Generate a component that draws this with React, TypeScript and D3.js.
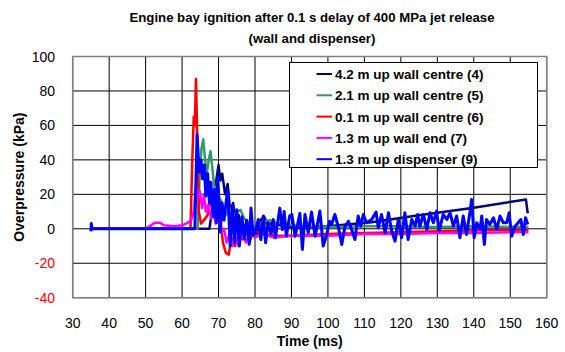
import React, { useEffect, useRef } from 'react';
import * as d3 from 'd3';

const titleLines = ['Engine bay ignition after 0.1 s delay of 400 MPa jet release', '(wall and dispenser)'];
const xTicks = [30, 40, 50, 60, 70, 80, 90, 100, 110, 120, 130, 140, 150, 160];
const yTicks = [-40, -20, 0, 20, 40, 60, 80, 100];

const seriesNames = [
  '4.2 m up wall centre (4)',
  '2.1 m up wall centre (5)',
  '0.1 m up wall centre (6)',
  '1.3 m up wall end (7)',
  '1.3 m up dispenser (9)',
];
const seriesColors = ['#000080', '#339966', '#ff0000', '#ff00ff', '#0000ff'];

// [time ms, overpressure kPa]
const wallCentre42 = [
  [35, 0], [60, 0], [67.5, 0], [68.5, 15], [69.5, 30], [70, 37], [70.5, 28], [71, 32], [71.8, 20],
  [72.5, 26], [73.2, 10], [74, 15], [74.8, 2], [75.5, 8], [76.5, -5], [77.5, 3], [78.5, -8],
  [79.5, 0], [80.5, -3], [81.5, 5], [82.5, 7], [83.5, 2], [85, 4], [87, 2], [90, 1], [95, 1],
  [100, 1.5], [112, 3.8], [124, 7.6], [140, 12.2], [154.3, 17], [154.8, 9],
];
const wallCentre21 = [
  [35, 0], [64.3, 0], [64.8, 30], [65.3, 46], [65.8, 52], [66.3, 40], [66.8, 32], [67.3, 40],
  [67.8, 45], [68.3, 35], [68.8, 25], [69.5, 22], [70.2, 18], [71, 15], [72, 8], [73, 12],
  [74, 6], [75, 10], [76, 11], [77, 6], [78, 4], [79, 2], [80, 1], [82, 4], [84, 5], [86, 3],
  [88, 4], [90, 2], [95, 1.5], [100, 1], [110, 1.5], [120, 1.5], [130, 1], [140, 1.5], [150, 1], [155, 1],
];
const wallCentre01 = [
  [35, 0], [62.3, 0], [62.8, 40], [63.2, 65], [63.5, 60], [63.8, 87], [64.2, 50], [64.6, 10],
  [65.2, 3], [66, 5], [67, 8], [68, 18], [68.6, 22], [69.2, 15], [69.8, 20], [70.5, 5], [71.2, -8],
  [72, -14], [72.8, -15], [73.5, -5], [74.5, -10], [75.5, -3], [76.5, -6], [77.5, -2], [78.5, -5],
  [80, -1], [82, -3], [85, -4], [90, -4], [100, -3], [110, -2.5], [120, -2], [130, -1.5],
  [140, -1], [150, -0.5], [155, -0.5],
];
const wallEnd13 = [
  [35, 0], [50, 0], [51.5, 2], [52.5, 3.5], [54, 3.5], [55, 2], [58, 1.5], [60, 2], [61.5, 3.5],
  [62.5, 5], [63.2, 10], [63.8, 25], [64.3, 18], [64.8, 22], [65.5, 12], [66, 20], [66.5, 10],
  [67.2, 14], [68, 6], [68.6, 10], [69.2, 3], [70, 5], [70.8, -2], [71.5, 0], [72.2, -8], [73, -3],
  [73.8, -10], [74.5, -5], [75.5, -10], [76.5, -3], [77.5, -8], [78.5, -2], [80, -5], [82, -3],
  [85, -5], [90, -4], [100, -4], [110, -3], [120, -3], [130, -2.5], [140, -2.5], [150, -2], [155, -2],
];
const dispenser13 = [
  [35, -1.5], [35.1, 3], [35.3, 0], [63.5, 0], [64.1, 54.7], [64.7, 33], [65.2, 40], [65.6, 29],
  [66.1, 37], [66.5, 19], [67, 32], [67.5, 15], [67.9, 27], [68.5, 7], [68.9, 23], [69.4, 3.5],
  [69.8, 30], [70.5, -2], [70.9, 15], [71.5, 5], [72.5, 23], [73.2, -10], [73.8, 13], [74.4, -8],
  [75, 11], [75.7, -10], [76.4, 7], [77.1, -6], [77.7, 5], [78.4, -9], [78.9, 12], [79.5, -4],
  [80, -2.3], [80.9, 5.4], [81.6, -6.2], [82.3, 7.4], [82.9, -8.1], [83.6, 3.5], [84.4, -3.3],
  [85, 5.4], [85.6, -5.2], [86.8, 12], [87.5, -0.4], [88, 10], [88.6, -4.3], [89.5, 7.4],
  [90.1, 8.3], [91, -4.3], [92.3, 8.9], [93, -12], [93.7, 8.3], [94.6, -2.3], [95.5, 9.7],
  [96.5, -4.3], [97.8, 10.3], [98.7, -10], [99.7, -3.3], [100.4, 4.4], [101, 2.5], [101.9, 8.3],
  [102.9, 0.6], [103.8, -9.1], [104.7, 1.5], [105.6, 4.4], [106.5, -0.4], [107.4, -6.2],
  [108.3, 7.4], [109, 1.5], [109.7, 8.3], [110.6, 3.5], [112, 5.4], [113.2, 9.7], [113.8, 0.6],
  [114.7, 8.3], [115.7, -2.3], [116.6, 9.3], [117.5, -1.4], [118.4, -7.2], [119.3, 5.4],
  [120.2, -5.2], [121.1, 9.3], [122, -6.2], [123, 5.4], [123.9, 1.5], [124.6, 8.3], [125.2, 1.5],
  [126.2, 8.3], [127.1, -0.4], [128, 9.3], [128.9, 3.5], [129.8, 10.3], [130.5, -1.4],
  [131.6, 8.3], [132.6, 5.4], [133.5, 9.3], [134.4, 1.5], [135.3, 7.4], [136.2, -5.2],
  [137.1, 7.4], [138, -3.3], [139, 10.3], [139.4, 17], [140.1, -5.2], [140.8, 3.5], [141.7, -0.4],
  [142.2, 7.4], [142.9, -9.1], [143.5, 5.4], [144.4, 2.5], [145.4, 6.4], [146.3, -0.4],
  [147.2, 7.4], [148.1, 3.5], [149, 3.5], [149.7, 9.3], [150.4, -4.3], [151.3, 1.5], [152.2, 3.5],
  [152.9, 5.4], [153.6, -3.3], [154.2, 6.4], [154.8, 2.5],
];

const allSeries = [wallCentre42, wallCentre21, wallCentre01, wallEnd13, dispenser13];

const font = '"Liberation Sans", Arial, sans-serif';

const App = () => {
  const ref = useRef<SVGSVGElement | null>(null);

  useEffect(() => {
    if (!ref.current) return;
    const svg = d3.select(ref.current);
    svg.selectAll('*').remove();

    const left = 72.7, right = 546.7, top = 56.5, bottom = 297.7;
    const x = d3.scaleLinear().domain([30, 160]).range([left, right]);
    const y = d3.scaleLinear().domain([-40, 100]).range([bottom, top]);

    svg.append('rect').attr('width', 565).attr('height', 352).attr('fill', '#fff');

    // title
    svg.selectAll('text.title')
      .data(titleLines)
      .enter()
      .append('text')
      .attr('x', 312)
      .attr('y', (d, i) => 22 + i * 21)
      .attr('text-anchor', 'middle')
      .style('font-family', font)
      .style('font-weight', 'bold')
      .style('font-size', '13.2px')
      .text((d) => d);

    // grid
    const grid = svg.append('g');
    grid.selectAll('line.v')
      .data(xTicks)
      .enter()
      .append('line')
      .attr('x1', (d) => x(d)).attr('x2', (d) => x(d))
      .attr('y1', top).attr('y2', bottom)
      .attr('stroke', '#000').attr('stroke-width', 1);
    grid.selectAll('line.h')
      .data(yTicks)
      .enter()
      .append('line')
      .attr('x1', left).attr('x2', right)
      .attr('y1', (d) => y(d)).attr('y2', (d) => y(d))
      .attr('stroke', '#000').attr('stroke-width', 1);
    svg.append('rect')
      .attr('x', left).attr('y', top)
      .attr('width', right - left).attr('height', bottom - top)
      .attr('fill', 'none').attr('stroke', '#808080').attr('stroke-width', 1.5);

    // tick labels
    svg.selectAll('text.xt')
      .data(xTicks)
      .enter()
      .append('text')
      .attr('x', (d) => x(d))
      .attr('y', 328)
      .attr('text-anchor', 'middle')
      .style('font-family', font)
      .style('font-size', '14px')
      .text((d) => d);
    svg.selectAll('text.yt')
      .data(yTicks)
      .enter()
      .append('text')
      .attr('x', 55)
      .attr('y', (d) => y(d) + 5)
      .attr('text-anchor', 'end')
      .attr('fill', (d) => (d < 0 ? '#ff0000' : '#000'))
      .style('font-family', font)
      .style('font-size', '14px')
      .text((d) => d);

    svg.append('text')
      .attr('x', (left + right) / 2)
      .attr('y', 346)
      .attr('text-anchor', 'middle')
      .style('font-family', font)
      .style('font-weight', 'bold')
      .style('font-size', '14px')
      .text('Time (ms)');
    svg.append('text')
      .attr('transform', `translate(24, ${(top + bottom) / 2}) rotate(-90)`)
      .attr('text-anchor', 'middle')
      .style('font-family', font)
      .style('font-weight', 'bold')
      .style('font-size', '14px')
      .text('Overpressure (kPa)');

    // series
    const line = d3.line<number[]>().x((d) => x(d[0])).y((d) => y(d[1]));
    allSeries.forEach((s, i) => {
      svg.append('path')
        .attr('d', line(s))
        .attr('fill', 'none')
        .attr('stroke', seriesColors[i])
        .attr('stroke-width', i === 4 ? 3 : 2.5)
        .attr('stroke-linejoin', 'round');
    });

    // legend
    const lg = svg.append('g');
    lg.append('rect')
      .attr('x', 289.5).attr('y', 62.5)
      .attr('width', 248).attr('height', 105)
      .attr('fill', '#fff').attr('stroke', '#000').attr('stroke-width', 1);
    seriesNames.forEach((name, i) => {
      const cy = 74 + i * 21.3;
      lg.append('line')
        .attr('x1', 316.5).attr('x2', 332)
        .attr('y1', cy).attr('y2', cy)
        .attr('stroke', seriesColors[i]).attr('stroke-width', 2);
      lg.append('text')
        .attr('x', 335)
        .attr('y', cy + 5)
        .style('font-family', font)
        .style('font-weight', 'bold')
        .style('font-size', '13.5px')
        .text(name);
    });
  }, []);

  return <svg ref={ref} width={565} height={352} style={{ position: 'absolute', left: 0, top: 0 }} />;
};

export default App;
